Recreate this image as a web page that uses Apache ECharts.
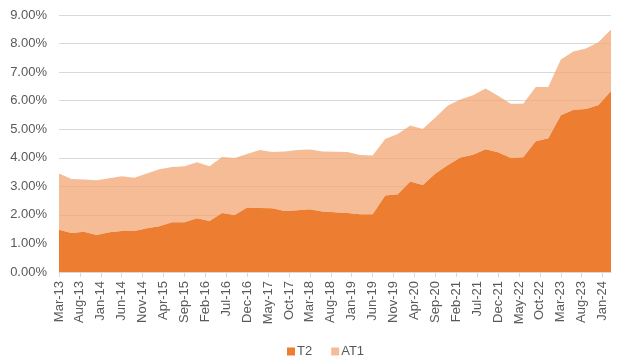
<!DOCTYPE html>
<html>
<head>
<meta charset="utf-8">
<script src="https://cdn.jsdelivr.net/npm/echarts@6/dist/echarts.min.js"></script>
<style>
html,body{margin:0;padding:0;background:#fff;}
#c{width:620px;height:362px;}
</style>
</head>
<body>
<div id="c"></div>
<script>
// Monthly category axis from Mar-13 to Mar-24; data points are quarterly
const MONTH_NAMES = ['Jan','Feb','Mar','Apr','May','Jun','Jul','Aug','Sep','Oct','Nov','Dec'];
const START_MONTH = 2;   // March
const START_YEAR = 13;
const MONTH_COUNT = 133; // Mar-13 .. Mar-24
const STEP_MONTHS = 3;   // quarterly observations

// Values in percent, quarterly from Mar-13 to Mar-24
const T2 = [1.48,1.37,1.41,1.30,1.39,1.44,1.44,1.53,1.60,1.74,1.74,1.88,1.79,2.07,2.00,
            2.26,2.24,2.23,2.14,2.16,2.20,2.12,2.09,2.07,2.02,2.02,2.68,2.72,3.17,3.05,
            3.45,3.75,4.01,4.11,4.30,4.19,4.00,4.02,4.58,4.68,5.49,5.68,5.71,5.85,6.34];
const AT1 = [1.97,1.89,1.83,1.91,1.89,1.91,1.86,1.92,2.00,1.94,1.96,1.96,1.91,1.96,1.99,
             1.87,2.03,1.97,2.08,2.11,2.09,2.10,2.12,2.13,2.08,2.06,1.98,2.11,1.96,1.96,
             1.96,2.08,2.03,2.08,2.13,1.98,1.89,1.87,1.90,1.80,1.95,2.04,2.12,2.20,2.15];

const categories = [];
for (let k = 0; k < MONTH_COUNT; k++) {
  const m = (START_MONTH + k) % 12;
  const y = START_YEAR + Math.floor((START_MONTH + k) / 12);
  categories.push(MONTH_NAMES[m] + '-' + String(y).padStart(2, '0'));
}
const toPairs = arr => arr.map((v, i) => [i * STEP_MONTHS, v]);

const chart = echarts.init(document.getElementById('c'));
const font = 'Liberation Sans, Arial, sans-serif';
chart.setOption({
  animation: false,
  textStyle: { fontFamily: font },
  grid: { left: 59, right: 9, top: 15, bottom: 90, containLabel: false },
  legend: {
    top: 340,
    left: 282,
    icon: 'rect',
    itemWidth: 8,
    itemHeight: 8,
    itemGap: 19,
    textStyle: { color: '#595959', fontSize: 13, fontFamily: font, padding: [0, 0, 0, -3] },
    data: ['T2', 'AT1']
  },
  xAxis: {
    type: 'category',
    data: categories,
    boundaryGap: false,
    axisLine: { lineStyle: { color: '#D9D9D9' } },
    axisTick: { show: true, interval: 4, length: 5, lineStyle: { color: '#D9D9D9' } },
    axisLabel: { interval: 4, rotate: 90, margin: 9, color: '#595959', fontSize: 13, fontFamily: font }
  },
  yAxis: {
    type: 'value',
    min: 0,
    max: 9,
    interval: 1,
    axisLine: { show: false },
    axisTick: { show: false },
    splitLine: { lineStyle: { color: '#D9D9D9', width: 1 } },
    axisLabel: { margin: 12, color: '#595959', fontSize: 13, fontFamily: font,
                 formatter: v => v.toFixed(2) + '%' }
  },
  series: [
    {
      name: 'T2',
      type: 'line',
      stack: 'cap',
      data: toPairs(T2),
      symbol: 'none',
      lineStyle: { width: 0 },
      itemStyle: { color: '#ED7D31' },
      areaStyle: { color: '#ED7D31', opacity: 1 }
    },
    {
      name: 'AT1',
      type: 'line',
      stack: 'cap',
      data: toPairs(AT1),
      symbol: 'none',
      lineStyle: { width: 0 },
      itemStyle: { color: '#F5BC96' },
      areaStyle: { color: 'rgb(241,166,115)', opacity: 0.75 }
    }
  ]
});
</script>
</body>
</html>
